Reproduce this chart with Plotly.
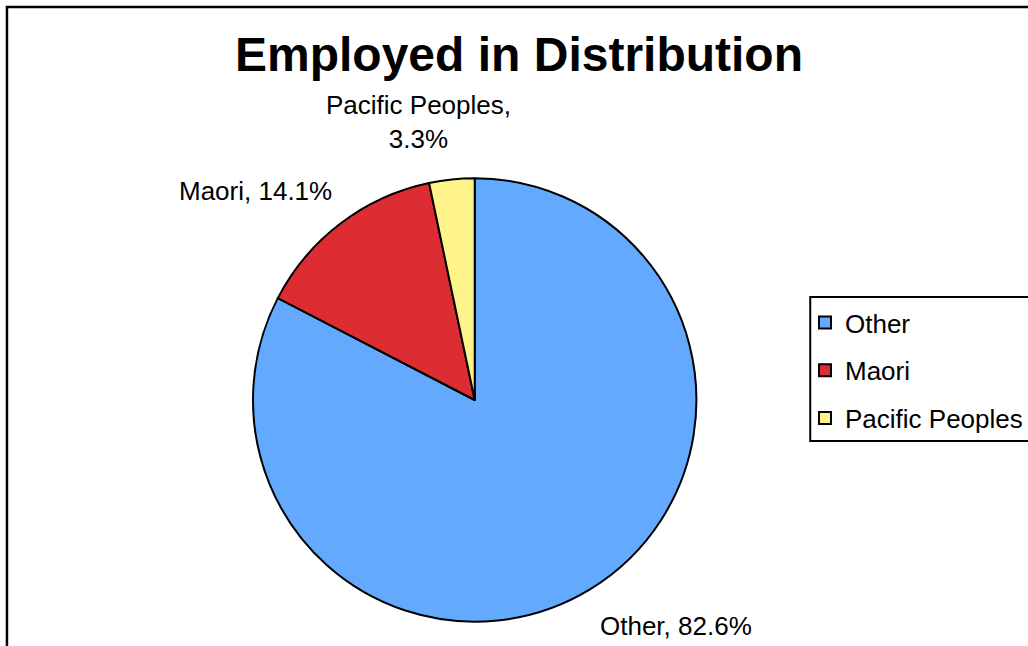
import plotly.graph_objects as go

categories = ["Other", "Maori", "Pacific Peoples"]
shares = [82.6, 14.1, 3.3]
colors = ["#63AAFF", "#DD2D33", "#FFF48A"]
label_texts = [f"{c}, {v:.1f}%" for c, v in zip(categories, shares)]
label_texts[2] = f"{categories[2]},<br>{shares[2]:.1f}%"

W, H = 1028, 646
FONT = "Liberation Sans, Arial, sans-serif"


def px(x, y):
    return x / W, 1 - y / H


fig = go.Figure()
cx, cy = px(477.5, 400)
r_x, r_y = 223 / W, 223 / H
fig.add_trace(go.Pie(
    labels=categories, values=shares, sort=False, direction="clockwise", rotation=0,
    marker=dict(colors=colors, line=dict(color="black", width=2)),
    textinfo="none", hoverinfo="label+percent", showlegend=False,
    domain=dict(x=[cx - r_x, cx + r_x], y=[cy - r_y, cy + r_y]),
))

# legend entries (one group each so spacing can be set)
for i, (c, col) in enumerate(zip(categories, colors)):
    fig.add_trace(go.Scatter(
        x=[None], y=[None], mode="markers", name=c, legendgroup=f"g{i}",
        marker=dict(symbol="square", size=12, color=col, line=dict(color="black", width=2)),
        showlegend=True,
    ))

annots = []
for txt, (x, y) in zip(label_texts, [(680, 626), (257, 191), (421, 122)]):
    ax, ay = px(x, y)
    annots.append(dict(x=ax, y=ay, xref="paper", yref="paper", text=txt, showarrow=False,
                       xanchor="center", yanchor="middle", align="center",
                       font=dict(family=FONT, size=26, color="black")))

tx, ty = px(522.5, 55)
annots.append(dict(x=tx, y=ty, xref="paper", yref="paper", text="<b>Employed in Distribution</b>",
                   showarrow=False, xanchor="center", yanchor="middle",
                   font=dict(family=FONT, size=48, color="black")))

bx0, by1 = px(7, 7)
lbx0, lby1 = px(815, 297)
_, lby0 = px(815, 441)
lx, ly = px(817, 299)
fig.update_layout(
    width=W, height=H,
    margin=dict(l=0, r=0, t=0, b=0),
    paper_bgcolor="white", plot_bgcolor="white",
    xaxis=dict(visible=False), yaxis=dict(visible=False),
    annotations=annots,
    shapes=[
        dict(type="rect", xref="paper", yref="paper",
             x0=bx0, x1=1.1, y0=-0.1, y1=by1,
             line=dict(color="black", width=2.5), fillcolor="rgba(0,0,0,0)"),
        dict(type="rect", xref="paper", yref="paper",
             x0=lbx0, x1=1.05, y0=lby0, y1=lby1,
             line=dict(color="black", width=2), fillcolor="white", layer="below"),
    ],
    legend=dict(x=lx, y=ly, xanchor="left", yanchor="top",
                borderwidth=0, bgcolor="rgba(0,0,0,0)",
                font=dict(family=FONT, size=26, color="black"),
                tracegroupgap=11, indentation=-7, itemclick=False),
    showlegend=True,
)

fig.write_html("out.html", config={"displayModeBar": False},
               post_script="document.body.style.margin='0px';document.body.style.overflow='hidden';")
